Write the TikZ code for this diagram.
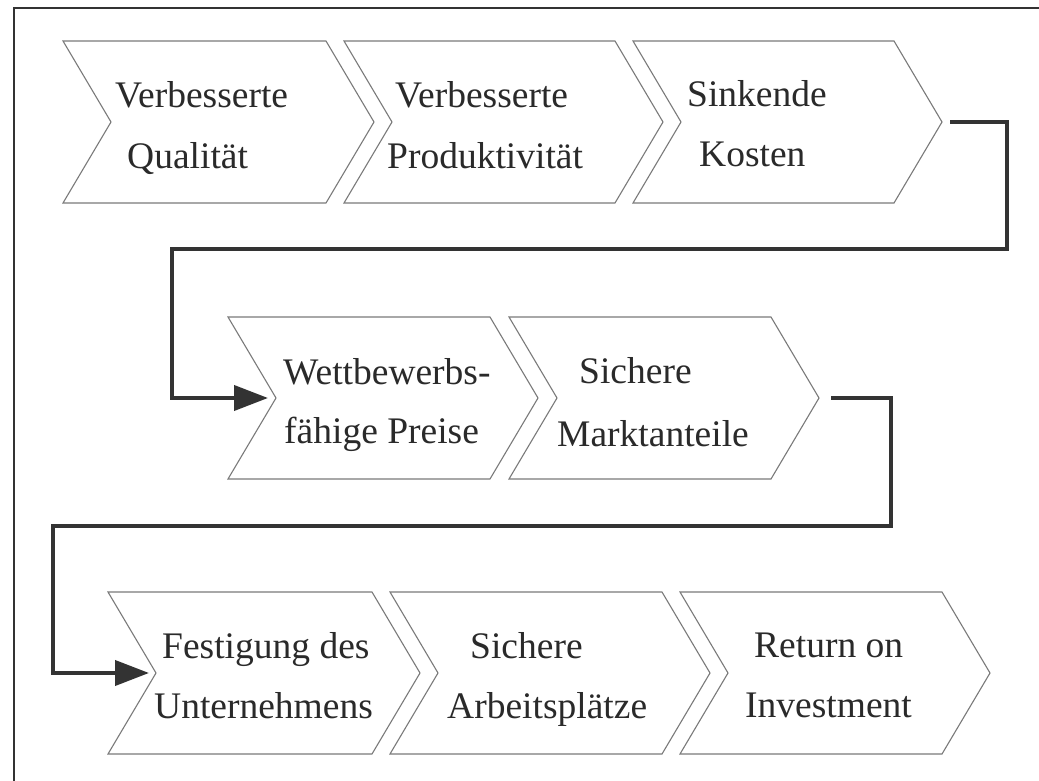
\documentclass[tikz,border=0pt]{standalone}
\usepackage{fontspec}
\setmainfont{Liberation Serif}
\usetikzlibrary{arrows.meta}
\definecolor{chevgray}{HTML}{7A7A7A}
\definecolor{inkdark}{HTML}{2A2A2A}
\definecolor{conndark}{HTML}{333333}
\tikzset{
  chevline/.style={draw=chevgray, line width=1.1pt, line join=miter},
  lbl/.style={anchor=base west, inner sep=0pt, text=inkdark, font=\fontsize{37.5}{44}\selectfont},
  conn/.style={draw=conndark, line width=4pt, line join=miter},
  connarrow/.style={conn, -{Triangle[length=34pt,width=25pt,fill=conndark]}},
  frameline/.style={draw=conndark, line width=2.5pt},
}
% #1 name, #2 left x, #3 top-right x, #4 top y
\newcommand\chevshape[4]{%
  \draw[chevline] (#2,#4) -- (#3,#4) -- ({#3+48},{#4+81}) -- (#3,{#4+162})
     -- (#2,{#4+162}) -- ({#2+48},{#4+81}) -- cycle;
  \coordinate (#1-notch) at ({#2+48},{#4+81});
  \coordinate (#1-tip) at ({#3+48},{#4+81});
}
\begin{document}
\begin{tikzpicture}[x=1pt,y=-1pt]
\useasboundingbox (0,0) rectangle (1039,781);
\fill[white] (0,0) rectangle (1039,781);

% frame (only top and left edges visible)
\coordinate (fbl) at (14,781);
\coordinate (ftl) at (14,8);
\coordinate (ftr) at (1039,8);
\draw[frameline] (fbl) -- (ftl) -- (ftr);

% chevrons
\chevshape{c1}{63}{326}{41}
\chevshape{c2}{344}{615}{41}
\chevshape{c3}{633}{894}{41}
\chevshape{c4}{228}{490}{317}
\chevshape{c5}{509}{771}{317}
\chevshape{c7}{108}{372}{592}
\chevshape{c8}{390}{662}{592}
\chevshape{c9}{680}{942}{592}

% labels
\node[lbl] (t1a) at (115,108) {Verbesserte};
\node[lbl] (t1b) at (127,168) {Qualität};
\node[lbl] (t2a) at (395,108) {Verbesserte};
\node[lbl] (t2b) at (387,168) {Produktivität};
\node[lbl] (t3a) at (687,107) {Sinkende};
\node[lbl] (t3b) at (699,167) {Kosten};
\node[lbl] (t4a) at (283,384) {Wettbewerbs-};
\node[lbl] (t4b) at (284,443) {fähige Preise};
\node[lbl] (t5a) at (579,383) {Sichere};
\node[lbl] (t5b) at (557,446) {Marktanteile};
\node[lbl] (t7a) at (162,658) {Festigung des};
\node[lbl] (t7b) at (154,718) {Unternehmens};
\node[lbl] (t8a) at (470,658) {Sichere};
\node[lbl] (t8b) at (447,718) {Arbeitsplätze};
\node[lbl] (t9a) at (754,657) {Return on};
\node[lbl] (t9b) at (745,717) {Investment};

% connectors
\coordinate (k1) at (1007,249);
\coordinate (k2) at (172,249);
\draw[connarrow] ([xshift=8pt]c3-tip) -| (k1) -- (k2) |- ([xshift=-8pt]c4-notch);
\coordinate (k3) at (891,526);
\coordinate (k4) at (53,526);
\draw[connarrow] ([xshift=12pt]c5-tip) -| (k3) -- (k4) |- ([xshift=-7pt]c7-notch);
\end{tikzpicture}
\end{document}
